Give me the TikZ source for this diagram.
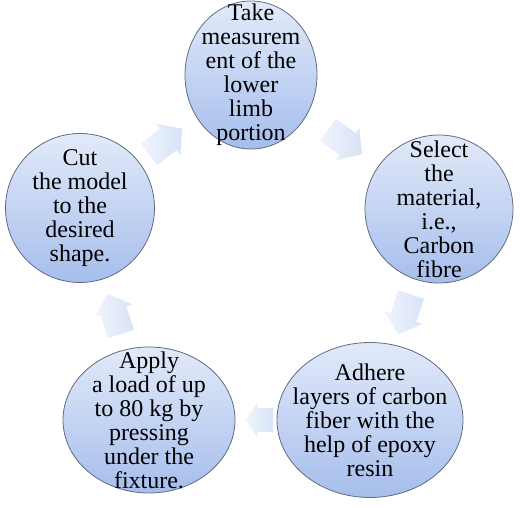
\documentclass[tikz,border=0pt]{standalone}
\usepackage{fontspec}
\setmainfont{Liberation Serif}
\usepackage{tikz}
\usetikzlibrary{calc,positioning,shapes.geometric}

\definecolor{stepedge}{RGB}{96,108,128}
\definecolor{steptop}{RGB}{226,234,249}
\definecolor{stepbottom}{RGB}{166,190,236}
\definecolor{arrowlight}{RGB}{240,244,253}
\definecolor{arrowdark}{RGB}{216,227,247}

\begin{document}
\begin{tikzpicture}
	[x=1pt,y=1pt,
	stepnode/.style={ellipse,draw=stepedge,line width=0.8pt,top color=steptop,bottom color=stepbottom,inner sep=0pt},
	steptext/.style={align=center,inner sep=0pt,font=\fontsize{24}{24}\selectfont},
	flowarrow/.style={left color=arrowlight,right color=arrowdark}]

	\useasboundingbox (0,0) rectangle (520,507);

	\node[stepnode,minimum width=132pt,minimum height=148pt] (take) at (251,432) {};
	\node[stepnode,minimum width=148pt,minimum height=148pt] (sel) at (439,298) {};
	\node[stepnode,minimum width=186pt,minimum height=155pt] (adh) at (370,87) {};
	\node[stepnode,minimum width=172pt,minimum height=146pt] (app) at (149,87) {};
	\node[stepnode,minimum width=149pt,minimum height=149pt] (cut) at (80,299) {};

	\node[steptext] at (take) {Take\\measurem\\ent of the\\lower\\limb\\portion};
	\node[steptext] at (sel) {Select\\the\\material,\\i.e.,\\Carbon\\fibre};
	\node[steptext] at (adh) {Adhere\\layers of carbon\\fiber with the\\help of epoxy\\resin};
	\node[steptext] at (app) {Apply\\a load of up\\to 80 kg by\\pressing\\under the\\fixture.};
	\node[steptext] at (cut) {Cut\\the model\\to the\\desired\\shape.};

	% block arrows half way between the steps
	\foreach \a/\b/\len/\wid in {cut/take/42/40,take/sel/42/40,sel/adh/42/40,adh/app/27/35,app/cut/42/40}
	\path let \p1 = ($(\b)-(\a)$), \n1 = {atan2(\y1,\x1)} in
		coordinate (mid) at ($(\a)!0.5!(\b)$)
		[shift={(mid)},rotate=\n1,flowarrow]
		(-\len/2,0.34*\wid) -- (0.08*\len,0.34*\wid) -- (0.08*\len,\wid/2) -- (\len/2,0)
		-- (0.08*\len,-\wid/2) -- (0.08*\len,-0.34*\wid) -- (-\len/2,-0.34*\wid) -- cycle;
\end{tikzpicture}
\end{document}
